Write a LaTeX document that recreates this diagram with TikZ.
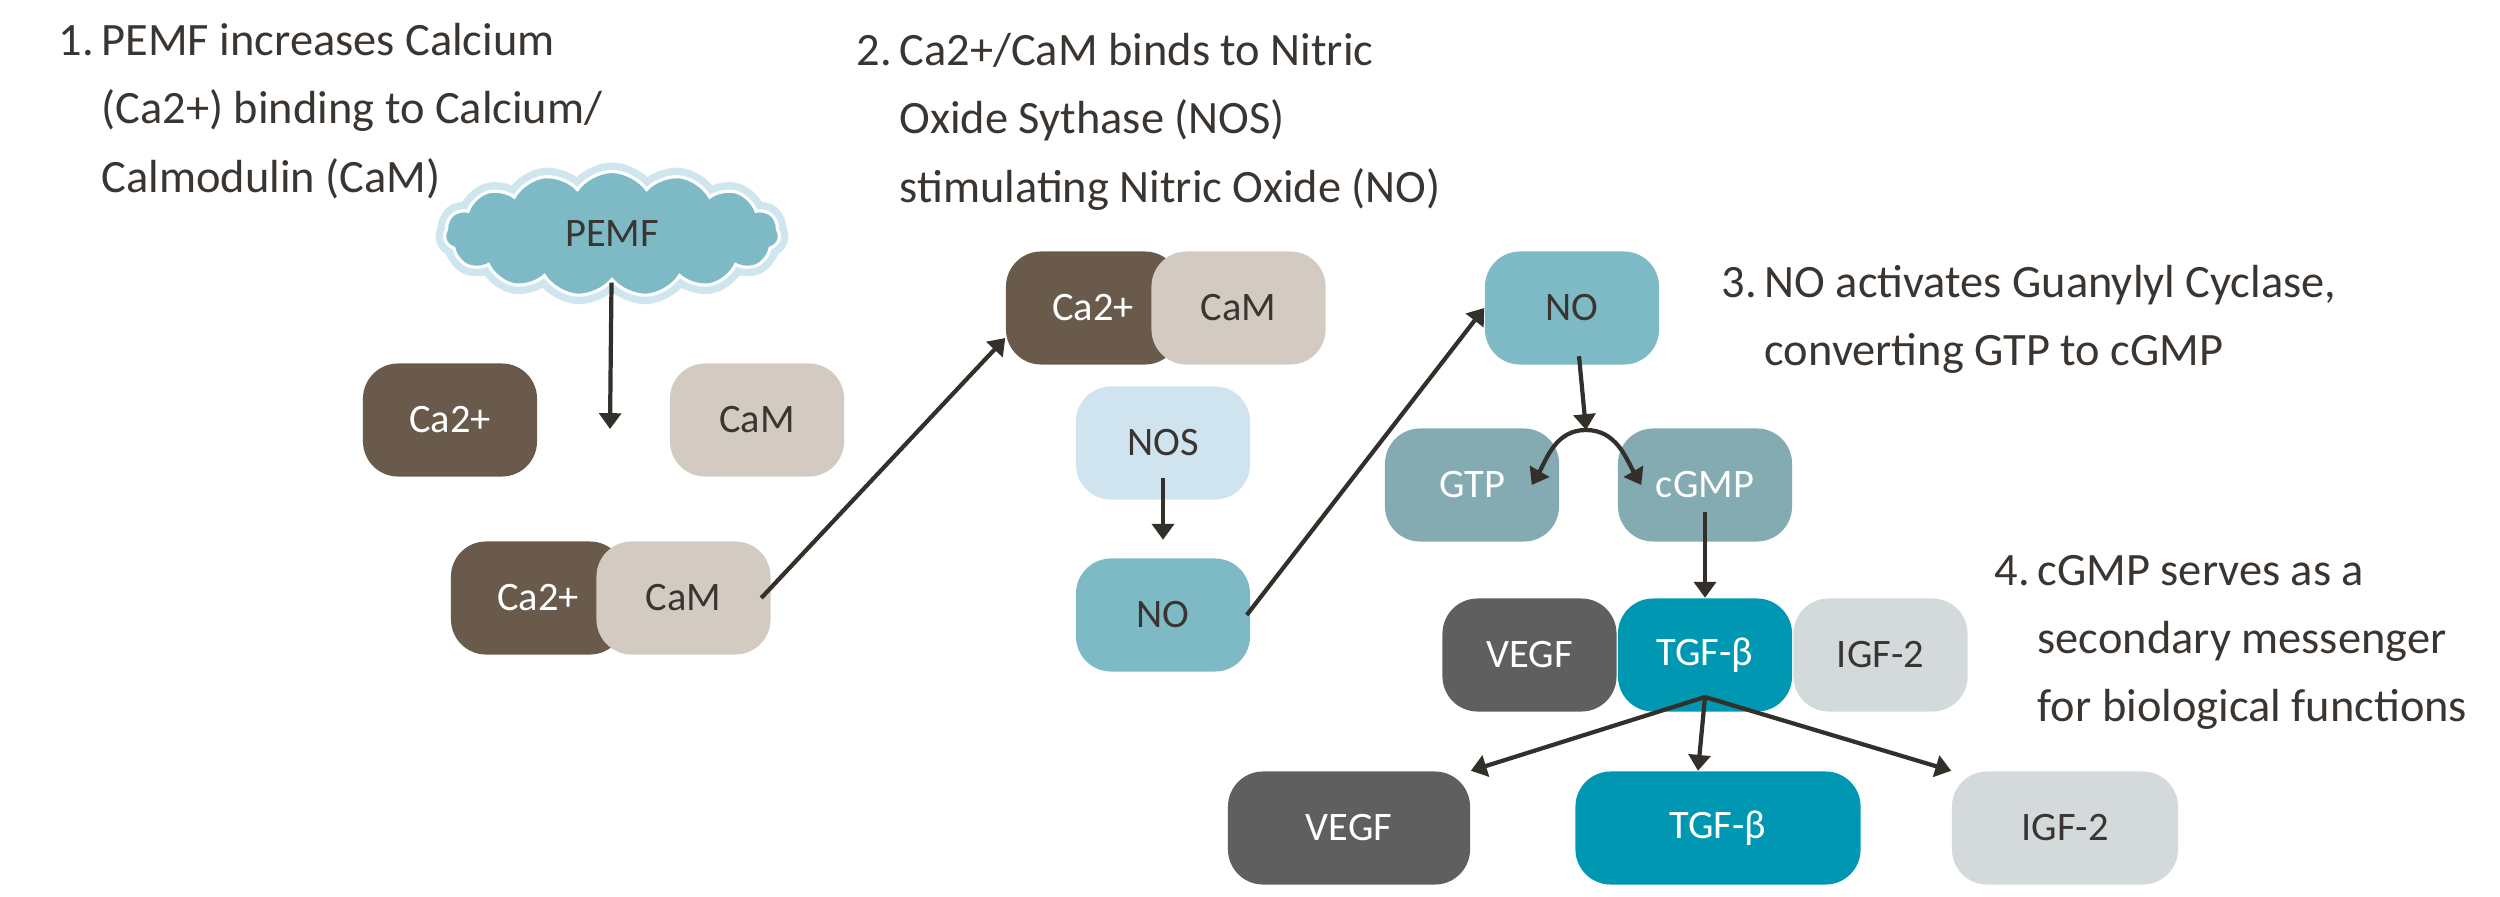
\documentclass[tikz,border=0pt]{standalone}
\usepackage{fontspec}
\setmainfont{Carlito}
\usetikzlibrary{arrows.meta, positioning, shapes.symbols}
\definecolor{inkc}{HTML}{3A3531}
\definecolor{arrowc}{HTML}{33302B}
\definecolor{caf}{HTML}{695A4C}
\definecolor{camf}{HTML}{D3CBC1}
\definecolor{nof}{HTML}{7DBAC6}
\definecolor{cloudedge}{HTML}{D0E6EF}
\definecolor{nosf}{HTML}{CFE4EE}
\definecolor{gtpf}{HTML}{84ABB1}
\definecolor{vegff}{HTML}{5F5F5F}
\definecolor{tgff}{HTML}{0097B2}
\definecolor{igff}{HTML}{D4DADB}
\tikzset{box/.style={rectangle,rounded corners=10pt,align=center,inner sep=3pt,minimum width=1.74cm,minimum height=1.13cm,font=\fontsize{11.5}{13}\selectfont},
cabox/.style={box,fill=caf,text=white},cambox/.style={box,fill=camf,text=inkc},
nosbox/.style={box,fill=nosf,text=inkc},nobox/.style={box,fill=nof,text=inkc},
gtpbox/.style={box,fill=gtpf,text=white},vegfbox/.style={box,fill=vegff,text=white},
tgfbox/.style={box,fill=tgff,text=white},igfbox/.style={box,fill=igff,text=inkc},
cloudbox/.style={cloud,cloud puffs=15,cloud puff arc=110,aspect=2.6,minimum width=3.35cm,minimum height=1.25cm,fill=nof,draw=white,line width=0.9pt,preaction={draw=cloudedge,line width=0.18cm},text=inkc,font=\fontsize{11.5}{13}\selectfont},
note/.style={anchor=north west,align=left,inner sep=0pt,text=inkc,font=\fontsize{13.2}{19.35}\selectfont},
line/.style={-{Triangle[length=4.5pt,width=6.2pt]},line width=1.2pt,draw=arrowc}}

\begin{document}
\begin{tikzpicture}[x=0.01cm,y=-0.01cm]
\useasboundingbox (0,0) rectangle (2500,897);
\node[note] (step1) at (58,23) {1.\,PEMF increases Calcium\\\hphantom{1.\,}(Ca2+) binding to Calcium/\\\hphantom{1.\,}Calmodulin (CaM)};
\node[note] (step2) at (856,33) {2.\,Ca2+/CaM binds to Nitric\\\hphantom{2.\,}Oxide Sythase (NOS)\\\hphantom{2.\,}stimulating Nitric Oxide (NO)};
\node[note] (step3) at (1721,265) {3.\,NO activates Guanylyl Cyclase,\\\hphantom{3.\,}converting GTP to cGMP};
\node[note] (step4) at (1994,555) {4.\,cGMP serves as a\\\hphantom{4.\,}secondary messenger\\\hphantom{4.\,}for biological functions};

\node[cloudbox] (pemf) at (612,234) {PEMF};
\coordinate (drop) at (610,429);
\node[cabox] (ca1) at (450,420) {Ca2+};
\node[cambox] (cam1) at (757,420) {CaM};
\node[cabox] (ca2) at (538,598) {Ca2+};
\node[cambox, right=-0.3cm of ca2] (cam2) {CaM};
\node[cabox] (ca3) at (1093,308) {Ca2+};
\node[cambox, right=-0.3cm of ca3] (cam3) {CaM};
\node[nosbox] (nos) at (1163,443) {NOS};
\node[nobox] (no1) at (1163,615) {NO};
\node[nobox] (no2) at (1572,308) {NO};
\coordinate (fork) at (1586,430);
\node[gtpbox] (gtp) at (1472,485) {GTP};
\node[gtpbox] (cgmp) at (1705,485) {cGMP};
\node[tgfbox] (tgf1) at (1705,655) {TGF-β};
\node[vegfbox, left=0pt of tgf1] (vegf1) {VEGF};
\node[igfbox, right=0pt of tgf1] (igf1) {IGF-2};
\coordinate (spread) at (1705,697);
\node[vegfbox, minimum width=2.42cm] (vegf2) at (1349,828) {VEGF};
\node[tgfbox, minimum width=2.85cm] (tgf2) at (1718,828) {TGF-β};
\node[igfbox, minimum width=2.26cm] (igf2) at (2065,828) {IGF-2};

\draw[line] (pemf) -- (drop);
\draw[line] ([xshift=-0.1cm]cam2.east) -- ([yshift=-0.3cm]ca3.west);
\draw[line] ([yshift=0.22cm]nos.south) -- ([yshift=0.18cm]no1.north);
\draw[line] ([xshift=-0.04cm]no1.east) -- (no2.west);
\draw[line] ([xshift=0.07cm,yshift=0.09cm]no2.south) -- (fork);
\draw[line] (fork) to[out=180,in=60] ([xshift=-0.28cm]gtp.east);
\draw[line] (fork) to[out=0,in=120] ([xshift=0.24cm]cgmp.west);
\draw[line] ([yshift=0.3cm]cgmp.south) -- (tgf1.north);
\draw[line] (spread) -- (vegf2.north east);
\draw[line] (spread) -- ([xshift=-0.2cm]tgf2.north);
\draw[line] (spread) -- (igf2.north west);
\end{tikzpicture}
\end{document}
